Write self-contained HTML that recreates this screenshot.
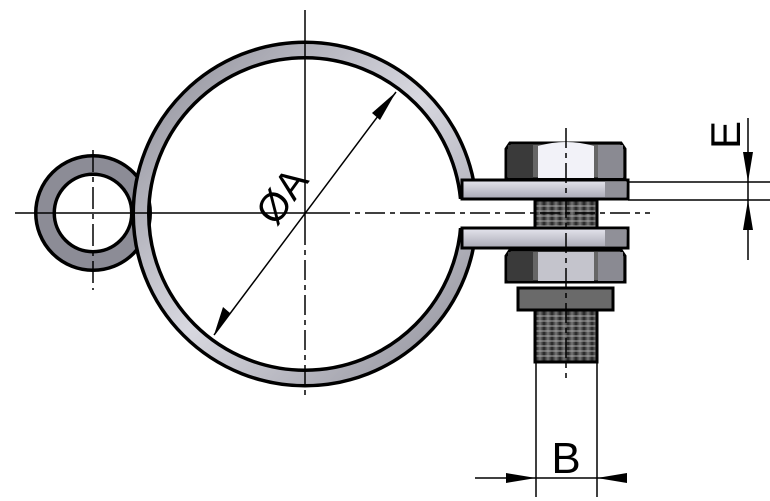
<!DOCTYPE html>
<html><head><style>body{margin:0;background:#fff}svg{display:block}</style></head><body>
<svg width="770" height="501" viewBox="0 0 770 501" xmlns="http://www.w3.org/2000/svg">
<defs>
<linearGradient id="rg" x1="0" y1="0" x2="1" y2="1"><stop offset="0" stop-color="#8e8e98"/><stop offset="0.5" stop-color="#d8d8e0"/><stop offset="1" stop-color="#8e8e98"/></linearGradient>
<linearGradient id="th" x1="0" y1="0" x2="1" y2="0"><stop offset="0" stop-color="#222"/><stop offset="0.5" stop-color="#777"/><stop offset="1" stop-color="#222"/></linearGradient>
<linearGradient id="tab" x1="0" y1="0" x2="0" y2="1"><stop offset="0" stop-color="#e6e6ee"/><stop offset="1" stop-color="#a8a8b4"/></linearGradient>
<pattern id="thr" width="8" height="5" patternUnits="userSpaceOnUse"><rect width="8" height="5" fill="url(#th)"/><line x1="0" y1="1" x2="8" y2="1" stroke="#aaa" stroke-width="1"/></pattern>
</defs>
<circle cx="93" cy="213" r="48" fill="none" stroke="#000" stroke-width="22"/>
<circle cx="93" cy="213" r="48" fill="none" stroke="#8c8c96" stroke-width="15"/>
<circle cx="305" cy="214" r="164" fill="none" stroke="#000" stroke-width="19"/>
<circle cx="305" cy="214" r="164" fill="none" stroke="url(#rg)" stroke-width="12"/>
<rect x="455" y="199" width="30" height="29" fill="#fff"/>
<path d="M462 180 L628 180 L628 199 L462 199 Z" fill="url(#tab)" stroke="#000" stroke-width="3"/>
<rect x="605" y="182" width="21" height="15" fill="#909098"/>
<path d="M462 228 L628 228 L628 248 L462 248 Z" fill="url(#tab)" stroke="#000" stroke-width="3"/>
<rect x="605" y="230" width="21" height="16" fill="#909098"/>
<path d="M510 143 L621 143 L625 149 L625 179 L506 179 L506 149 Z" fill="#666" stroke="#000" stroke-width="3"/>
<rect x="508" y="145" width="25" height="33" fill="#3a3a3a"/>
<path d="M538 146 Q566 138 594 146 L594 178 L538 178 Z" fill="#f2f2f8"/>
<rect x="598" y="145" width="25" height="33" fill="#8a8a92"/>
<rect x="535" y="200" width="62" height="28" fill="url(#thr)" stroke="#000" stroke-width="3"/>
<path d="M510 250 L621 250 L625 256 L625 282 L506 282 L506 256 Z" fill="#666" stroke="#000" stroke-width="3"/>
<rect x="508" y="252" width="25" height="29" fill="#3a3a3a"/>
<rect x="538" y="252" width="56" height="29" fill="#c4c4cc"/>
<rect x="598" y="252" width="25" height="29" fill="#8a8a92"/>
<rect x="518" y="288" width="95" height="22" fill="#6a6a6a" stroke="#000" stroke-width="3"/>
<rect x="535" y="310" width="62" height="52" fill="url(#thr)" stroke="#000" stroke-width="3"/>
<g stroke="#000" stroke-width="1.5" fill="none">
<line x1="15" y1="213" x2="330" y2="213"/>
<line x1="330" y1="213" x2="650" y2="213" stroke-dasharray="20 5 5 5"/>
<line x1="305" y1="10" x2="305" y2="225"/>
<line x1="305" y1="225" x2="305" y2="398" stroke-dasharray="20 5 5 5"/>
<line x1="93" y1="150" x2="93" y2="290" stroke-dasharray="22 5 5 5"/>
<line x1="566" y1="128" x2="566" y2="378" stroke-dasharray="20 5 5 5"/>
<line x1="214" y1="335" x2="396" y2="92"/>
<line x1="536" y1="362" x2="536" y2="497"/>
<line x1="597" y1="362" x2="597" y2="497"/>
<line x1="475" y1="478" x2="627" y2="478"/>
<line x1="628" y1="182" x2="770" y2="182"/>
<line x1="628" y1="200" x2="770" y2="200"/>
<line x1="748" y1="118" x2="748" y2="260"/>
</g>
<g fill="#000">
<polygon points="396,92 380,120 372,113"/>
<polygon points="214,335 223,307 230,313"/>
<polygon points="536,478 506,473 506,483"/>
<polygon points="597,478 627,473 627,483"/>
<polygon points="748,182 743,152 753,152"/>
<polygon points="748,200 743,230 753,230"/>
</g>
<text x="0" y="0" transform="translate(293,204) rotate(-54)" font-family="Liberation Sans, sans-serif" font-size="40" text-anchor="middle">ØA</text>
<text x="566" y="473" font-family="Liberation Sans, sans-serif" font-size="44" text-anchor="middle">B</text>
<text x="0" y="0" transform="translate(740,135) rotate(-90)" font-family="Liberation Sans, sans-serif" font-size="42" text-anchor="middle">E</text>
</svg>
</body></html>
